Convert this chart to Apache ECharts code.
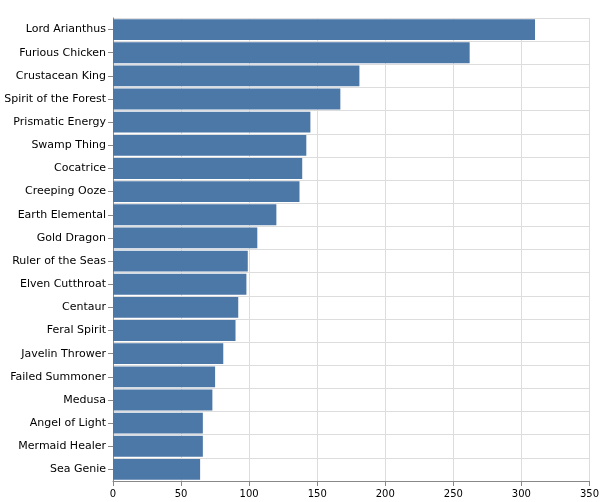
<!DOCTYPE html>
<html><head><meta charset="utf-8">
<script src="https://cdn.jsdelivr.net/npm/echarts@6/dist/echarts.min.js"></script>
<style>html,body{margin:0;padding:0;background:#fff}#c{width:602px;height:502px}</style>
</head><body><div id="c"></div>
<script>
const categories = ["Lord Arianthus","Furious Chicken","Crustacean King","Spirit of the Forest","Prismatic Energy","Swamp Thing","Cocatrice","Creeping Ooze","Earth Elemental","Gold Dragon","Ruler of the Seas","Elven Cutthroat","Centaur","Feral Spirit","Javelin Thrower","Failed Summoner","Medusa","Angel of Light","Mermaid Healer","Sea Genie"];
const values = [310,262,181,167,145,142,139,137,120,106,99,98,92,90,81,75,73,66,66,64];
const xTicks = [0,50,100,150,200,250,300,350];
const chart = echarts.init(document.getElementById('c'));
chart.setOption({
  animation:false,
  grid:{left:113,right:12,top:18,bottom:21,containLabel:false},
  xAxis:{type:'value',min:xTicks[0],max:xTicks[xTicks.length-1],interval:50,
    axisLine:{show:true,lineStyle:{color:'#888'}},axisTick:{show:true,length:5,lineStyle:{color:'#888'}},
    axisLabel:{color:'#000',fontSize:10,fontFamily:'DejaVu Sans'},
    splitLine:{show:true,lineStyle:{color:'#ddd'}}},
  yAxis:{type:'category',data:categories,inverse:true,boundaryGap:true,
    axisLine:{show:true,lineStyle:{color:'#888'}},axisTick:{show:true,alignWithLabel:true,length:5,lineStyle:{color:'#888'}},
    axisLabel:{color:'#000',fontSize:11,fontFamily:'DejaVu Sans',margin:7},
    splitLine:{show:true,interval:0,lineStyle:{color:'#ddd'}}},
  series:[{type:'bar',data:values,barCategoryGap:'10%',itemStyle:{color:'#4c78a8'}}]
});
</script></body></html>
